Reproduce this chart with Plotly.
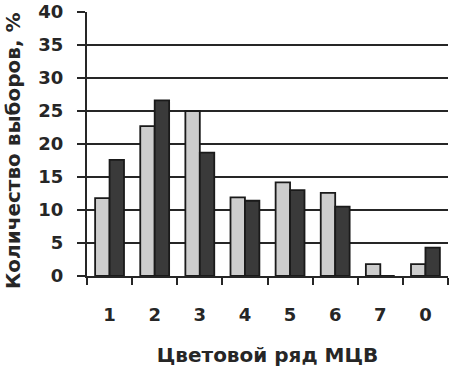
import plotly.graph_objects as go

categories = ["1", "2", "3", "4", "5", "6", "7", "0"]
series_light = [11.8, 22.7, 25.0, 11.9, 14.2, 12.6, 1.8, 1.8]
series_dark = [17.6, 26.6, 18.7, 11.4, 13.0, 10.5, 0, 4.3]
y_ticks = [0, 5, 10, 15, 20, 25, 30, 35, 40]

FAM = "DejaVu Sans, Liberation Sans, Arial, sans-serif"
font = dict(family=FAM, color="#262626")

fig = go.Figure()
fig.add_trace(go.Bar(x=categories, y=series_light, name="a",
                     marker=dict(color="#cdcdcd", line=dict(color="#1a1a1a", width=1.8))))
fig.add_trace(go.Bar(x=categories, y=series_dark, name="b",
                     marker=dict(color="#3a3a3a", line=dict(color="#1a1a1a", width=1.8))))

fig.update_layout(
    width=453, height=371,
    margin=dict(l=87, r=5, t=12, b=95, autoexpand=False),
    paper_bgcolor="white", plot_bgcolor="white",
    barmode="group", bargap=0.36, bargroupgap=0,
    showlegend=False,
    font=font,
)
fig.update_xaxes(
    type="category", tickson="boundaries", ticks="outside", ticklen=7,
    tickwidth=1.5, tickcolor="#262626", automargin=False,
    showline=True, linecolor="#262626", linewidth=2,
    tickfont=dict(size=18, family=FAM, color="#262626", weight="bold"),
    ticklabelstandoff=21,
    title=dict(text="<b>Цветовой ряд МЦВ</b>", font=dict(size=20, family=FAM), standoff=24),
    showgrid=False,
)
fig.update_yaxes(
    range=[0, 40], tickvals=y_ticks, ticks="outside", ticklen=8,
    tickwidth=1.5, tickcolor="#262626", automargin=False,
    showline=True, linecolor="#262626", linewidth=2,
    showgrid=True, gridcolor="#262626", gridwidth=1.5,
    tickfont=dict(size=18, family=FAM, color="#262626", weight="bold"),
    ticklabelstandoff=10,
    zeroline=False,
)
fig.add_annotation(
    text="<b>Количество выборов, %</b>", textangle=-90,
    xref="paper", yref="paper", x=-0.205, y=0.477,
    xanchor="center", yanchor="middle", showarrow=False,
    font=dict(size=20, family=FAM, color="#262626"),
)

fig.write_html("out.html", post_script="document.body.style.margin='0';",
               config={"displayModeBar": False})
